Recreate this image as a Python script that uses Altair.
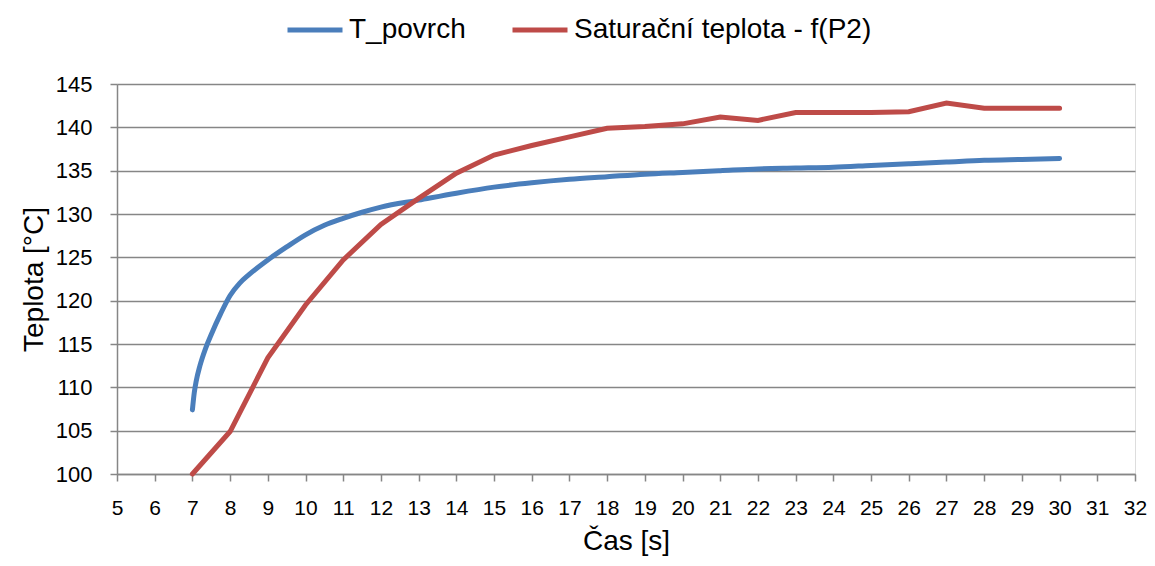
import altair as alt
import pandas as pd

blue_name = "T_povrch"
red_name = "Saturační teplota - f(P2)"

t_blue = [7.0, 7.05, 7.1, 7.2, 7.35, 7.5, 7.75, 8.0, 8.25, 8.5, 9.0, 9.5, 10.0, 10.5, 11.0, 11.5, 12.0,
          13.0, 14.0, 15.0, 16.0, 17.0, 18.0, 19.0, 20.0, 21.0, 22.0, 23.0, 24.0, 25.0, 26.0, 27.0, 28.0, 29.0, 30.0]
v_blue = [107.4, 109.4, 110.7, 112.5, 114.5, 116.1, 118.5, 120.6, 122.0, 123.0, 124.7, 126.2, 127.6, 128.7, 129.5, 130.2, 130.8,
          131.6, 132.4, 133.1, 133.6, 134.0, 134.3, 134.6, 134.8, 135.0, 135.2, 135.3, 135.4, 135.6, 135.8, 136.0, 136.2, 136.3, 136.4]

t_red = list(range(7, 31))
v_red = [100.0, 104.9, 113.4, 119.5, 124.7, 128.8, 131.8, 134.7, 136.8, 137.9, 138.9, 139.9, 140.1, 140.4,
         141.2, 140.8, 141.7, 141.7, 141.7, 141.8, 142.8, 142.2, 142.2, 142.2]

x_ticks = list(range(5, 33))
y_ticks = list(range(100, 146, 5))

df_blue = pd.DataFrame({"t": t_blue, "v": v_blue, "s": blue_name})
df_red = pd.DataFrame({"t": t_red, "v": v_red, "s": red_name})

font = "Liberation Sans"
grey = "#868686"

color = alt.Color(
    "s:N",
    scale=alt.Scale(domain=[blue_name, red_name], range=["#4A7EBB", "#BE4B48"]),
    legend=alt.Legend(
        title=None, orient="none", direction="horizontal", legendX=168, legendY=-84,
        symbolType="stroke", symbolSize=3025, symbolStrokeWidth=5,
        labelFont=font, labelFontSize=28, labelColor="#000000", columnPadding=36, labelOffset=4,
        labelLimit=500,
    ),
)

x = alt.X(
    "t:Q",
    scale=alt.Scale(domain=[5, 32], nice=False, zero=False),
    axis=alt.Axis(
        title="Čas [s]", values=x_ticks, grid=False, tickSize=7, tickColor=grey, domainColor=grey,
        domainWidth=1.5, tickWidth=1.5, labelFlush=False, labelOverlap=False, labelBound=False,
        labelFont=font, labelFontSize=21, labelColor="#000000", labelPadding=16,
        titleFont=font, titleFontSize=28, titleFontWeight="normal", titleColor="#000000", titlePadding=9,
    ),
)
y = alt.Y(
    "v:Q",
    scale=alt.Scale(domain=[100, 145], nice=False, zero=False),
    axis=alt.Axis(
        title="Teplota [°C]", values=y_ticks, grid=True, gridColor=grey, gridWidth=1.5, tickSize=7,
        tickColor=grey, domainColor=grey, domainWidth=1.5, tickWidth=1.5, labelFlush=False,
        labelFont=font, labelFontSize=22, labelColor="#000000", labelPadding=18,
        titleFont=font, titleFontSize=28, titleFontWeight="normal", titleColor="#000000", titlePadding=7,
    ),
)

blue = alt.Chart(df_blue).mark_line(strokeWidth=5, interpolate="monotone", strokeCap="round").encode(x=x, y=y, color=color)
red = alt.Chart(df_red).mark_line(strokeWidth=5, strokeCap="round").encode(x=x, y=y, color=color)

chart = alt.layer(blue, red).properties(
    width=1018, height=390,
    autosize=alt.AutoSizeParams(type="none"),
    padding={"left": 109, "top": 76, "right": 12, "bottom": 84},
).configure_view(stroke=None).configure(background="#ffffff")

chart.save("out.html", embed_options={"renderer": "svg", "actions": False})
